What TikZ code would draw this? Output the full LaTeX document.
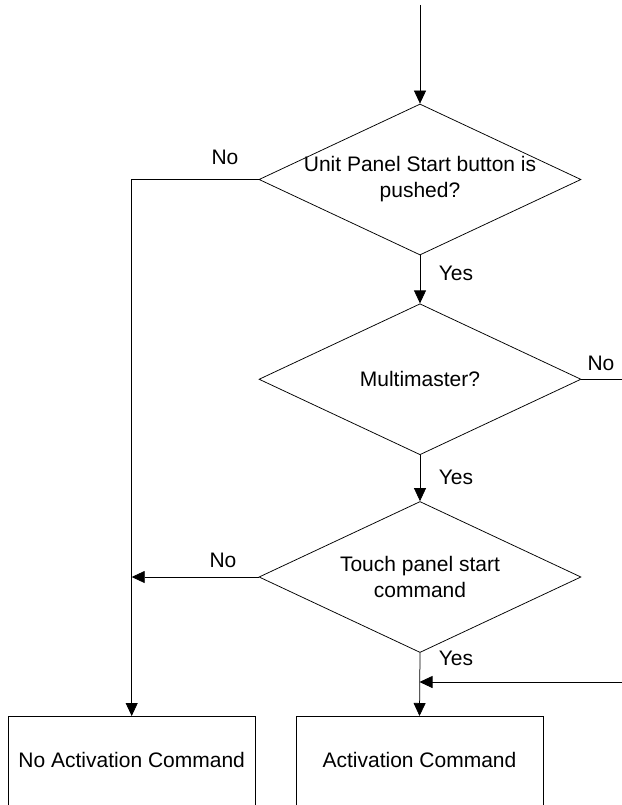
\documentclass[tikz,border=0pt]{standalone}
\usepackage{fontspec}
\setmainfont{Liberation Sans}
\usetikzlibrary{shapes.geometric,arrows.meta,positioning}

\tikzset{losange/.style = {diamond, draw, aspect=2.13,
                           minimum width=#1, minimum height=151bp,
                           inner xsep=-20bp, inner ysep=0pt, align=center},
         losange/.default=322bp,
         boite/.style = {rectangle, draw, minimum width=247bp, minimum height=100bp,
                         text height=15bp, text depth=12bp},
         fleche/.style = {-{Triangle[length=13bp, width=12bp]}},
         etiq/.style = {inner sep=0pt}
        }

\begin{document}
\begin{tikzpicture}[x=1bp, y=-1bp, line width=0.75bp,
                    font=\fontsize{21bp}{26bp}\selectfont]
  \useasboundingbox (0,0) rectangle (622,805);
  \coordinate (debut) at (420,5);
  \coordinate (bord) at (622,0);
  \node[losange] (bouton) at (420,179.5) {Unit Panel Start button is\\pushed?};
  \node[losange, below=48bp of bouton] (multi) {Multimaster?};
  \node[losange, below=46bp of multi] (tactile) {Touch panel start\\command};
  \node[boite, anchor=north] (nonact) at (131.7,716) {No Activation Command};
  \node[boite, anchor=north] (act) at (419.5,716) {Activation Command};
  \coordinate (retour) at (622,682);

  \draw[fleche] (debut) -- (bouton.north);
  \draw[fleche] (bouton.west) -| (nonact.north);
  \draw[fleche] (bouton.south) -- (multi.north);
  \draw (multi.east) -- (multi.east -| bord);
  \draw[fleche] (multi.south) -- (tactile.north);
  \draw[fleche] (tactile.west) -- (tactile.west -| nonact.north);
  \draw[fleche] (tactile.south) -- (act.north);
  \draw[fleche] (retour) -- (retour -| act.north);

  \node[etiq] (non1) at (225,157) {No};
  \node[etiq] (oui1) at (456,273) {Yes};
  \node[etiq] (non2) at (601,363) {No};
  \node[etiq] (oui2) at (456,477) {Yes};
  \node[etiq] (non3) at (223,560) {No};
  \node[etiq] (oui3) at (456,658) {Yes};
\end{tikzpicture}
\end{document}
